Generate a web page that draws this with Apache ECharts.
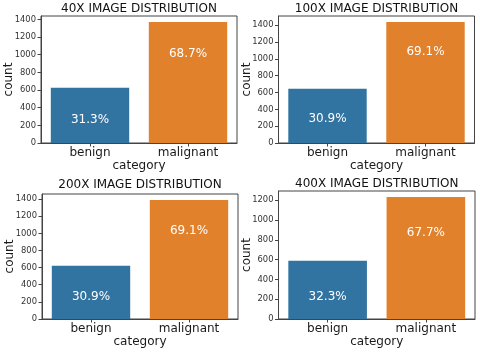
<!DOCTYPE html>
<html>
<head>
<meta charset="utf-8">
<script src="https://cdn.jsdelivr.net/npm/echarts@6/dist/echarts.min.js"></script>
<style>
html,body{margin:0;padding:0;background:#fff;}
#c{width:480px;height:355px;}
</style>
</head>
<body>
<div id="c"></div>
<script>
// ---- data ----
var categories = ['benign', 'malignant'];
var titles = ['40X IMAGE DISTRIBUTION', '100X IMAGE DISTRIBUTION', '200X IMAGE DISTRIBUTION', '400X IMAGE DISTRIBUTION'];
var counts40 = [625, 1370];
var counts100 = [644, 1437];
var counts200 = [623, 1390];
var counts400 = [588, 1232];
var yTicks1400 = [0, 200, 400, 600, 800, 1000, 1200, 1400];
var yTicks1200 = [0, 200, 400, 600, 800, 1000, 1200];
var xName = 'category';
var yName = 'count';

// ---- layout ----
var panels = [
  {data: counts40,  ticks: yTicks1400, titleY: 9,     grid: {left: 41,    top: 16,  width: 196,   height: 127}},
  {data: counts100, ticks: yTicks1400, titleY: 9,     grid: {left: 278.5, top: 16,  width: 196,   height: 127}},
  {data: counts200, ticks: yTicks1400, titleY: 184.7, grid: {left: 42,    top: 194, width: 196,   height: 125}},
  {data: counts400, ticks: yTicks1200, titleY: 183.7, grid: {left: 278.5, top: 191, width: 196.5, height: 128}}
];
var colors = ['#3274a1', '#e1812c'];
var FONT = 'DejaVu Sans';
var axisColor = '#444';
var labelOffsetUnits = 360;
var pctFont = 12;
var titleFont = 12;
var labelFont = 12;
var tickFont = 8.4;

var option = {
  animation: false,
  backgroundColor: '#fff',
  textStyle: {fontFamily: FONT},
  title: [], grid: [], xAxis: [], yAxis: [], series: []
};

panels.forEach(function (p, i) {
  var g = p.grid;
  var total = p.data.reduce(function (a, b) { return a + b; }, 0);
  var ymax = Math.max.apply(null, p.data) * 1.05;
  var dist = labelOffsetUnits * g.height / ymax - pctFont / 2;
  option.title.push({
    text: titles[i],
    left: g.left + g.width / 2,
    top: p.titleY - titleFont / 2,
    textAlign: 'center',
    padding: 0,
    textStyle: {fontFamily: FONT, fontSize: titleFont, fontWeight: 'normal', color: '#111'}
  });
  option.grid.push({
    left: g.left, top: g.top, width: g.width, height: g.height,
    show: true, borderColor: axisColor, borderWidth: 1, backgroundColor: 'transparent',
    containLabel: false
  });
  option.xAxis.push({
    type: 'category', gridIndex: i, data: categories,
    name: xName, nameLocation: 'middle', nameGap: 15.5,
    nameTextStyle: {fontFamily: FONT, fontSize: labelFont, color: '#1a1a1a'},
    axisLine: {show: true, lineStyle: {color: axisColor, width: 1}},
    axisTick: {show: true, alignWithLabel: true, length: 3.5, lineStyle: {color: axisColor}},
    axisLabel: {fontFamily: FONT, fontSize: labelFont, color: '#1a1a1a', margin: 3.5},
    splitLine: {show: false}
  });
  option.yAxis.push({
    type: 'value', gridIndex: i, min: 0, max: ymax, interval: 200,
    name: yName, nameLocation: 'middle', nameGap: 26, nameRotate: 90,
    nameMoveOverlap: false,
    nameTextStyle: {fontFamily: FONT, fontSize: labelFont, color: '#1a1a1a'},
    axisLine: {show: true, lineStyle: {color: axisColor, width: 1}},
    axisTick: {show: true, length: 3.5, lineStyle: {color: axisColor}, customValues: p.ticks},
    axisLabel: {fontFamily: FONT, fontSize: tickFont, color: '#333', margin: 5, customValues: p.ticks,
      formatter: function (v) { return String(v); }},
    splitLine: {show: false}
  });
  option.series.push({
    type: 'bar', xAxisIndex: i, yAxisIndex: i,
    barCategoryGap: '20%',
    data: p.data.map(function (v, k) {
      return {value: v, itemStyle: {color: colors[k]}};
    }),
    label: {
      show: true, position: 'insideTop', distance: dist,
      color: '#fff', fontFamily: FONT, fontSize: pctFont,
      formatter: function (d) { return (d.value / total * 100).toFixed(1) + '%'; }
    }
  });
});

var chart = echarts.init(document.getElementById('c'), null, {renderer: 'canvas'});
chart.setOption(option);
</script>
</body>
</html>
